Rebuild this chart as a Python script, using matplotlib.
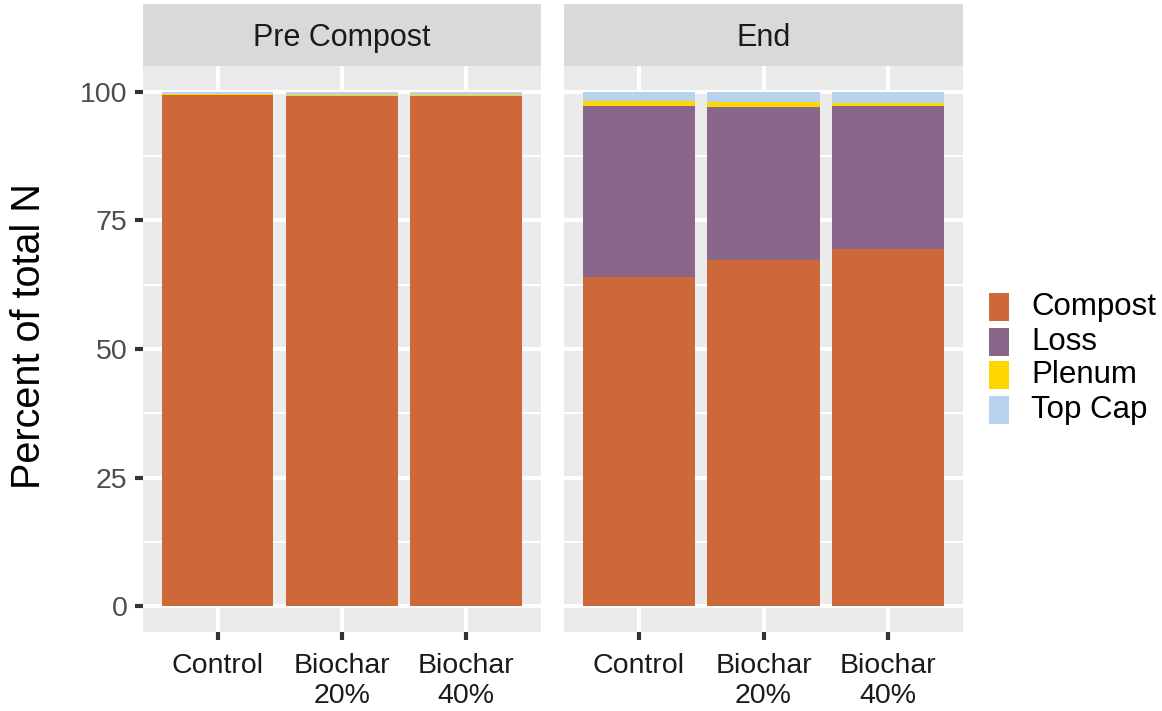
import matplotlib
matplotlib.use("Agg")
import matplotlib.pyplot as plt
from matplotlib.patches import Rectangle
import numpy as np

plt.rcParams["font.family"] = ["Liberation Sans", "DejaVu Sans"]

categories = ["Control", "Biochar\n20%", "Biochar\n40%"]
facets = ["Pre Compost", "End"]
components = ["Compost", "Loss", "Plenum", "Top Cap"]
colors = ["#CD6839", "#8B668B", "#FFD700", "#B9D3EE"]

pre_compost = [99.4, 99.2, 99.2]
pre_loss = [0.0, 0.0, 0.0]
pre_plenum = [0.2, 0.2, 0.2]
pre_topcap = [0.4, 0.6, 0.6]

end_compost = [63.9, 67.3, 69.4]
end_loss = [33.3, 29.8, 27.8]
end_plenum = [1.0, 1.0, 0.65]
end_topcap = [1.8, 1.9, 2.15]

facet_data = {
    "Pre Compost": [pre_compost, pre_loss, pre_plenum, pre_topcap],
    "End": [end_compost, end_loss, end_plenum, end_topcap],
}

W, H = 1162, 711
fig = plt.figure(figsize=(W / 100, H / 100), dpi=100)

def px_rect(x0, x1, ytop, ybot):
    return [x0 / W, 1 - ybot / H, (x1 - x0) / W, (ybot - ytop) / H]

panels = [(143, 540.5), (564, 963)]
panel_top, panel_bot = 66, 632
strip_top = 4

def setup_axes(ax, show_y):
    ax.set_facecolor("#EBEBEB")
    ax.set_xlim(0.4, 3.6)
    ax.set_ylim(-5, 105)
    ax.set_yticks([0, 25, 50, 75, 100])
    ax.set_yticks([12.5, 37.5, 62.5, 87.5], minor=True)
    ax.set_xticks([1, 2, 3])
    ax.set_xticklabels(categories, fontsize=20.5, color="#1A1A1A", linespacing=1.2)
    ax.grid(which="major", color="white", linewidth=3.0)
    ax.grid(which="minor", axis="y", color="white", linewidth=1.5)
    ax.set_axisbelow(True)
    for s in ax.spines.values():
        s.set_visible(False)
    ax.tick_params(axis="both", which="major", length=6, width=3, color="#333333",
                   labelsize=20.5, labelcolor="#4D4D4D", pad=5)
    ax.tick_params(axis="x", labelcolor="#1A1A1A", pad=9)
    ax.tick_params(which="minor", length=0)
    if not show_y:
        ax.tick_params(axis="y", left=False, labelleft=False)

for i, facet in enumerate(facets):
    x0, x1 = panels[i]
    ax = fig.add_axes(px_rect(x0, x1, panel_top, panel_bot))
    setup_axes(ax, i == 0)
    xpos = np.arange(1, len(categories) + 1)
    bottom = np.zeros(len(categories))
    for comp, col, vals in zip(components, colors, facet_data[facet]):
        ax.bar(xpos, vals, width=0.9, bottom=bottom, color=col, linewidth=0)
        bottom = bottom + np.array(vals)
    sax = fig.add_axes(px_rect(x0, x1, strip_top, panel_top))
    sax.set_facecolor("#D9D9D9")
    sax.set_xticks([])
    sax.set_yticks([])
    for s in sax.spines.values():
        s.set_visible(False)
    sax.text(0.5, 0.45, facet, ha="center", va="center", fontsize=22, color="#1A1A1A",
             transform=sax.transAxes)

fig.text(29 / W, 1 - 336 / H, "Percent of total N", rotation=90, ha="center", va="center",
         fontsize=28.5, color="black")

# legend
key_x, key_w, key_h = 989, 20, 28
row_centers = [307, 342, 375, 410]
for comp, col, yc in zip(components, colors, row_centers):
    fig.patches.append(Rectangle((key_x / W, 1 - (yc + key_h / 2) / H), key_w / W, key_h / H,
                                 transform=fig.transFigure, facecolor=col, edgecolor="none"))
    fig.text(1031 / W, 1 - yc / H, comp, ha="left", va="center", fontsize=22.5, color="black")

fig.savefig("out.png", dpi=100)
